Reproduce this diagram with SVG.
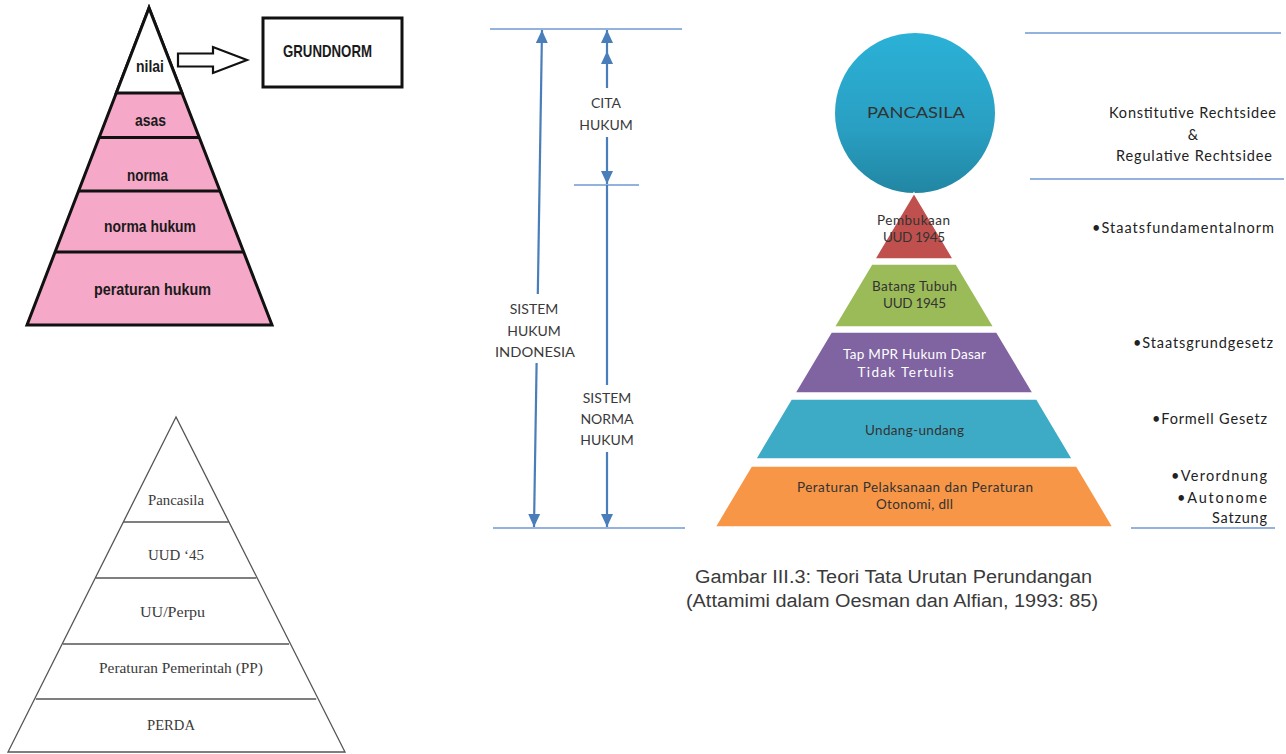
<svg xmlns="http://www.w3.org/2000/svg" width="1286" height="754" viewBox="0 0 1286 754">
<style>
.bold{font-family:"Liberation Sans",Arial,sans-serif;font-weight:bold;font-size:17px;fill:#1a1a1a;text-anchor:middle}
.serif{font-family:"Liberation Serif","Times New Roman",serif;font-size:15px;fill:#3a3a3a;text-anchor:middle}
.cal{font-family:Lato,"Open Sans",sans-serif;font-size:14px;fill:#3a3a3a;text-anchor:middle}
.calr{font-family:Lato,"Open Sans",sans-serif;font-size:14.5px;fill:#222;text-anchor:end}
.pl{font-family:Lato,"Open Sans",sans-serif;font-size:13.5px;fill:#333;text-anchor:middle}
.plw{font-family:Lato,"Open Sans",sans-serif;font-size:13.5px;fill:#fff;text-anchor:middle}
.cap{font-family:"Liberation Sans",Arial,sans-serif;font-size:18px;fill:#3a3a3a;text-anchor:middle}
.hl{stroke:#6f9ad3;stroke-width:1.6;fill:none}
.ar{stroke:#4a7ebb;stroke-width:2.2;fill:none}
.pk{fill:#f5a8c8;stroke:#111;stroke-width:3;stroke-linejoin:miter}
.wt{fill:#ffffff;stroke:#111;stroke-width:3}
.gl{fill:#fff;stroke:#555;stroke-width:1.3}
.seg{stroke:#ffffff;stroke-width:1.5}
</style>
<defs>
<marker id="ah" markerUnits="userSpaceOnUse" markerWidth="14" markerHeight="14" refX="13" refY="7" orient="auto">
<path d="M0,1 L13,7 L0,13 z" fill="#4a7ebb"/>
</marker>
<linearGradient id="cg" x1="0" y1="0" x2="0" y2="1">
<stop offset="0" stop-color="#2bb1d7"/>
<stop offset="0.6" stop-color="#299fc2"/>
<stop offset="1" stop-color="#2186a2"/>
</linearGradient>
</defs>

<!-- top-left pyramid -->
<g id="pyramid-grundnorm">
<polygon class="pk" points="149,8 27,325 272,325"/>
<polygon class="wt" points="149,8 116.3,93 182,93"/>
<line x1="99.4" y1="137.5" x2="199.2" y2="137.5" stroke="#111" stroke-width="3"/>
<line x1="78.6" y1="191" x2="220" y2="191" stroke="#111" stroke-width="3"/>
<line x1="55" y1="252" x2="243.7" y2="252" stroke="#111" stroke-width="3"/>
<text class="bold" x="150" y="72" textLength="28" lengthAdjust="spacingAndGlyphs">nilai</text>
<text class="bold" x="150.5" y="126" textLength="31" lengthAdjust="spacingAndGlyphs">asas</text>
<text class="bold" x="147.5" y="181" textLength="41" lengthAdjust="spacingAndGlyphs">norma</text>
<text class="bold" x="150" y="232" textLength="92" lengthAdjust="spacingAndGlyphs">norma hukum</text>
<text class="bold" x="152.5" y="295" textLength="117" lengthAdjust="spacingAndGlyphs">peraturan hukum</text>
</g>
<g id="arrow-grundnorm">
<polygon points="178,53.5 213,53.5 213,47 247,60 213,73 213,66.5 178,66.5" fill="#fff" stroke="#111" stroke-width="2.2"/>
</g>
<g id="grundnorm">
<rect x="263" y="18" width="139" height="69" fill="#fff" stroke="#111" stroke-width="3"/>
<text class="bold" x="327.5" y="57" textLength="89" lengthAdjust="spacingAndGlyphs">GRUNDNORM</text>
</g>

<!-- bottom-left pyramid -->
<g id="pyramid-hierarki">
<polygon class="gl" points="176,417 8,752 345,752"/>
<line x1="123.2" y1="522" x2="228.8" y2="522" stroke="#555" stroke-width="1.3"/>
<line x1="95.6" y1="578" x2="256.4" y2="578" stroke="#555" stroke-width="1.3"/>
<line x1="63" y1="644" x2="289" y2="644" stroke="#555" stroke-width="1.3"/>
<line x1="35.8" y1="699" x2="316.2" y2="699" stroke="#555" stroke-width="1.3"/>
<text class="serif" x="176" y="505" textLength="56" lengthAdjust="spacingAndGlyphs">Pancasila</text>
<text class="serif" x="176" y="560" textLength="56" lengthAdjust="spacingAndGlyphs">UUD ‘45</text>
<text class="serif" x="172.5" y="617" textLength="65" lengthAdjust="spacingAndGlyphs">UU/Perpu</text>
<text class="serif" x="181" y="673" textLength="164" lengthAdjust="spacingAndGlyphs">Peraturan Pemerintah (PP)</text>
<text class="serif" x="171" y="730" textLength="48" lengthAdjust="spacingAndGlyphs">PERDA</text>
</g>

<!-- middle dimension lines -->
<g id="connectors">
<line class="hl" x1="490" y1="29" x2="682" y2="29"/>
<line class="hl" x1="574" y1="185" x2="639" y2="185"/>
<line class="hl" x1="493" y1="528" x2="685" y2="528"/>
<line class="hl" x1="1025" y1="33" x2="1281" y2="33"/>
<line class="hl" x1="1030" y1="179" x2="1284" y2="179"/>
<line class="hl" x1="1131" y1="528" x2="1275" y2="528"/>
<line class="ar" x1="537.8" y1="294" x2="542" y2="30" marker-end="url(#ah)"/>
<line class="ar" x1="536.6" y1="363" x2="534" y2="527" marker-end="url(#ah)"/>
<line class="ar" x1="607" y1="88" x2="607" y2="51" marker-end="url(#ah)"/>
<line class="ar" x1="607" y1="52" x2="607" y2="30" marker-end="url(#ah)"/>
<line class="ar" x1="607" y1="137" x2="607" y2="184" marker-end="url(#ah)"/>
<line class="ar" x1="607" y1="185" x2="607" y2="385"/>
<line class="ar" x1="607" y1="452" x2="607" y2="527" marker-end="url(#ah)"/>
</g>
<g id="label-sistem-hukum">
<text class="cal" x="534" y="314">SISTEM</text>
<text class="cal" x="534" y="336">HUKUM</text>
<text class="cal" x="535" y="357" textLength="80" lengthAdjust="spacingAndGlyphs">INDONESIA</text>
</g>
<g id="label-cita">
<text class="cal" x="606" y="108">CITA</text>
<text class="cal" x="606" y="130">HUKUM</text>
</g>
<g id="label-sistem-norma">
<text class="cal" x="607" y="403">SISTEM</text>
<text class="cal" x="607" y="424">NORMA</text>
<text class="cal" x="607" y="445">HUKUM</text>
</g>

<!-- right pyramid -->
<g id="pancasila">
<circle cx="915" cy="113" r="80" fill="url(#cg)"/>
<text class="cal" x="916" y="118" style="font-size:16px;fill:#333" textLength="98" lengthAdjust="spacingAndGlyphs">PANCASILA</text>
</g>
<g id="pembukaan">
<polygon class="seg" points="914,193 874.7,259 953.3,259" fill="#c0504d"/>
<text class="pl" x="913.5" y="225" textLength="73">Pembukaan</text>
<text class="pl" x="914" y="242" textLength="62">UUD 1945</text>
</g>
<g id="batang-tubuh">
<polygon class="seg" points="871.7,264 956.3,264 993.9,327 834.1,327" fill="#9bbb59"/>
<text class="pl" x="914.5" y="291" textLength="85">Batang Tubuh</text>
<text class="pl" x="914.5" y="308" textLength="63">UUD 1945</text>
</g>
<g id="tap-mpr">
<polygon class="seg" points="831.2,332 996.8,332 1033.2,393 794.8,393" fill="#8064a2"/>
<text class="plw" x="914.5" y="359" textLength="143">Tap MPR Hukum Dasar</text>
<text class="plw" x="905.5" y="377" textLength="96">Tidak Tertulis</text>
</g>
<g id="undang-undang">
<polygon class="seg" points="791.2,399 1036.8,399 1072.5,459 755.5,459" fill="#3eabc6"/>
<text class="pl" x="914.5" y="435" textLength="99">Undang-undang</text>
</g>
<g id="peraturan">
<polygon class="seg" points="751.3,466 1076.7,466 1113,527 715,527" fill="#f79646"/>
<text class="pl" x="915" y="492" textLength="236">Peraturan Pelaksanaan dan Peraturan</text>
<text class="pl" x="914.5" y="509" textLength="77">Otonomi, dll</text>
</g>

<g id="right-labels">
<text class="cal" x="1192.5" y="118" style="fill:#222;font-size:14.5px" textLength="167">Konstitutive Rechtsidee</text>
<text class="cal" x="1193" y="140" style="fill:#222;font-size:14.5px">&amp;</text>
<text class="cal" x="1194" y="161" style="fill:#222;font-size:14.5px" textLength="156">Regulative Rechtsidee</text>
<text class="calr" x="1274" y="233" textLength="182">•Staatsfundamentalnorm</text>
<text class="calr" x="1273" y="348" textLength="140">•Staatsgrundgesetz</text>
<text class="calr" x="1267" y="424" textLength="115">•Formell Gesetz</text>
<text class="calr" x="1267" y="481" textLength="96">•Verordnung</text>
<text class="calr" x="1267" y="503" textLength="90">•Autonome</text>
<text class="calr" x="1267" y="523" textLength="55">Satzung</text>
</g>

<g id="caption">
<text class="cap" x="893.5" y="583" textLength="397" lengthAdjust="spacingAndGlyphs">Gambar III.3: Teori Tata Urutan Perundangan</text>
<text class="cap" x="892" y="607" textLength="412" lengthAdjust="spacingAndGlyphs">(Attamimi dalam Oesman dan Alfian, 1993: 85)</text>
</g>
</svg>
